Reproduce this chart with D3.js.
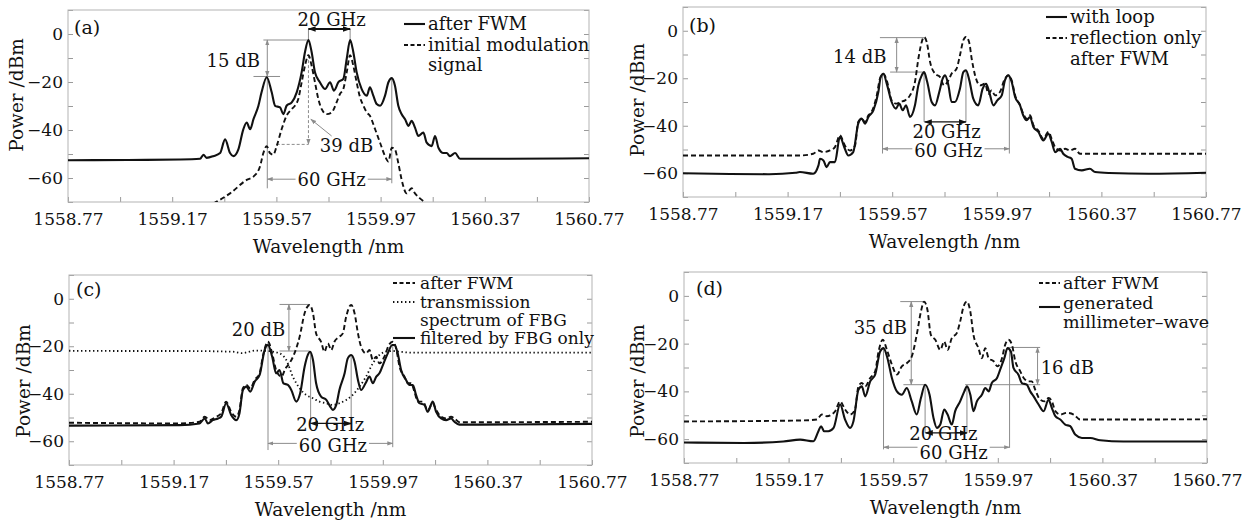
<!DOCTYPE html>
<html>
<head>
<meta charset="utf-8">
<script src="https://cdn.jsdelivr.net/npm/d3@7"></script>
<style>
  body { margin: 0; background: #fff; }
  svg text { font-family: "DejaVu Serif", serif; fill: #111; }
</style>
</head>
<body>
<svg id="chart" width="1258" height="521"></svg>
<script>
// axes shared by all four panels
const xDomain = [1558.77, 1560.77];
const yDomain = [-70, 10];
const xTicks = [1558.77, 1559.17, 1559.57, 1559.97, 1560.37, 1560.77];
const yTicks = [0, -20, -40, -60];
const xMinor = d3.range(0, 11).map(i => +(1558.77 + i * 0.2).toFixed(2));
const yMinor = d3.range(-70, 11, 10);

// (a) spectra, [wavelength nm, power dBm]
const aAfterFWM = [[1558.77,-52.6],[1559.0,-52.5],[1559.20,-52.3],[1559.277,-52.0],[1559.290,-50.3],[1559.302,-51.6],[1559.328,-50.9],[1559.354,-49.6],[1559.373,-43.9],[1559.392,-49.6],[1559.405,-50.9],[1559.424,-48.1],[1559.443,-39.7],[1559.456,-36.9],[1559.469,-39.7],[1559.482,-35.5],[1559.501,-29.9],[1559.513,-24.3],[1559.533,-18.0],[1559.552,-24.3],[1559.565,-29.9],[1559.584,-30.6],[1559.597,-33.4],[1559.609,-29.9],[1559.629,-28.5],[1559.648,-24.3],[1559.667,-15.9],[1559.680,-7.4],[1559.693,-2.5],[1559.705,-7.4],[1559.718,-15.9],[1559.737,-20.1],[1559.757,-22.9],[1559.776,-20.1],[1559.791,-23.6],[1559.808,-20.1],[1559.827,-18.7],[1559.840,-10.3],[1559.853,-2.5],[1559.865,-7.4],[1559.878,-15.9],[1559.897,-22.9],[1559.917,-25.7],[1559.929,-22.2],[1559.942,-25.7],[1559.955,-29.2],[1559.968,-29.9],[1559.987,-25.7],[1560.000,-20.1],[1560.013,-18.4],[1560.025,-21.5],[1560.038,-29.9],[1560.051,-33.4],[1560.064,-35.5],[1560.077,-38.3],[1560.089,-36.2],[1560.102,-39.0],[1560.115,-42.5],[1560.134,-41.1],[1560.147,-45.3],[1560.166,-46.7],[1560.179,-42.5],[1560.192,-47.4],[1560.211,-49.6],[1560.224,-49.6],[1560.236,-50.9],[1560.256,-49.6],[1560.275,-52.0],[1560.40,-52.0],[1560.77,-51.8]];
const aInitial = [[1559.30,-72],[1559.328,-70.6],[1559.392,-66.4],[1559.456,-60.8],[1559.482,-59.4],[1559.507,-55.2],[1559.520,-49.6],[1559.533,-46.7],[1559.545,-49.6],[1559.558,-50.3],[1559.571,-46.7],[1559.590,-39.7],[1559.609,-34.1],[1559.629,-31.3],[1559.641,-29.9],[1559.654,-27.1],[1559.667,-20.1],[1559.680,-13.1],[1559.693,-8.8],[1559.705,-13.1],[1559.718,-20.1],[1559.731,-27.1],[1559.744,-31.3],[1559.763,-33.4],[1559.782,-32.7],[1559.801,-28.5],[1559.814,-25.0],[1559.827,-22.9],[1559.840,-15.9],[1559.853,-8.8],[1559.865,-13.1],[1559.878,-20.1],[1559.891,-26.4],[1559.904,-29.9],[1559.917,-32.7],[1559.929,-34.1],[1559.949,-39.7],[1559.968,-45.3],[1559.987,-50.9],[1560.000,-53.1],[1560.013,-47.4],[1560.025,-48.1],[1560.038,-53.8],[1560.051,-60.8],[1560.070,-66.4],[1560.089,-64.3],[1560.102,-66.4],[1560.121,-68.5],[1560.147,-70.6],[1560.17,-72]];

// (b)
const bWithLoop = [[1558.77,-60.0],[1558.95,-60.3],[1559.10,-60.4],[1559.20,-59.8],[1559.217,-59.5],[1559.268,-60.2],[1559.288,-56.7],[1559.294,-53.9],[1559.307,-54.6],[1559.319,-57.4],[1559.332,-55.3],[1559.351,-55.3],[1559.370,-44.7],[1559.389,-49.7],[1559.402,-52.5],[1559.421,-51.1],[1559.440,-39.1],[1559.453,-37.0],[1559.466,-39.1],[1559.479,-36.3],[1559.498,-33.5],[1559.517,-25.8],[1559.526,-19.5],[1559.536,-18.1],[1559.551,-23.0],[1559.568,-30.0],[1559.584,-32.8],[1559.597,-30.7],[1559.610,-33.5],[1559.623,-31.4],[1559.638,-36.3],[1559.657,-31.4],[1559.670,-23.0],[1559.683,-18.8],[1559.692,-17.4],[1559.704,-21.6],[1559.721,-30.0],[1559.734,-31.4],[1559.750,-25.8],[1559.763,-20.2],[1559.772,-18.8],[1559.785,-23.0],[1559.797,-30.0],[1559.810,-30.0],[1559.829,-24.4],[1559.842,-17.4],[1559.852,-16.7],[1559.865,-20.9],[1559.880,-28.6],[1559.899,-31.4],[1559.916,-24.4],[1559.929,-22.3],[1559.941,-25.8],[1559.957,-31.4],[1559.972,-29.3],[1559.989,-27.2],[1560.001,-20.9],[1560.014,-18.8],[1560.027,-21.6],[1560.040,-27.9],[1560.059,-31.4],[1560.071,-35.6],[1560.084,-37.7],[1560.097,-36.3],[1560.110,-40.5],[1560.129,-42.6],[1560.148,-46.2],[1560.167,-43.3],[1560.180,-46.8],[1560.193,-51.1],[1560.212,-49.7],[1560.224,-51.8],[1560.243,-53.2],[1560.256,-53.9],[1560.269,-58.1],[1560.295,-58.8],[1560.326,-58.1],[1560.346,-59.5],[1560.40,-59.9],[1560.55,-60.2],[1560.77,-59.8]];
const bReflection = [[1558.77,-52.5],[1559.217,-52.5],[1559.268,-51.8],[1559.288,-50.4],[1559.307,-51.1],[1559.332,-50.4],[1559.351,-49.0],[1559.370,-44.0],[1559.389,-48.3],[1559.409,-50.4],[1559.428,-48.3],[1559.440,-38.4],[1559.453,-37.0],[1559.466,-38.4],[1559.479,-35.6],[1559.491,-34.2],[1559.511,-27.2],[1559.523,-20.2],[1559.536,-18.1],[1559.551,-21.6],[1559.568,-29.3],[1559.587,-30.7],[1559.600,-30.0],[1559.619,-29.3],[1559.638,-27.2],[1559.657,-21.6],[1559.670,-11.8],[1559.683,-4.7],[1559.692,-2.6],[1559.702,-4.7],[1559.715,-13.2],[1559.734,-18.1],[1559.753,-19.5],[1559.768,-23.0],[1559.785,-20.9],[1559.797,-18.1],[1559.816,-16.0],[1559.829,-10.4],[1559.842,-4.0],[1559.852,-2.6],[1559.864,-4.7],[1559.874,-11.8],[1559.887,-18.8],[1559.906,-23.0],[1559.925,-22.3],[1559.938,-26.5],[1559.950,-25.1],[1559.963,-27.2],[1559.982,-25.8],[1559.998,-20.9],[1560.014,-18.8],[1560.027,-20.9],[1560.040,-27.2],[1560.059,-31.4],[1560.071,-34.9],[1560.084,-37.0],[1560.097,-35.6],[1560.110,-39.8],[1560.129,-42.0],[1560.148,-45.5],[1560.167,-42.6],[1560.180,-45.5],[1560.193,-49.0],[1560.212,-50.4],[1560.231,-49.7],[1560.250,-50.4],[1560.269,-49.7],[1560.288,-51.8],[1560.77,-51.8]];

// (c)
const cAfterFWM = [[1558.77,-52.2],[1559.193,-52.5],[1559.269,-51.8],[1559.289,-49.7],[1559.308,-51.1],[1559.333,-49.7],[1559.352,-48.2],[1559.371,-43.3],[1559.390,-47.6],[1559.410,-49.7],[1559.422,-46.8],[1559.435,-37.7],[1559.448,-36.3],[1559.463,-37.7],[1559.480,-34.2],[1559.499,-31.4],[1559.511,-24.4],[1559.531,-18.1],[1559.547,-23.0],[1559.562,-30.0],[1559.582,-32.8],[1559.598,-29.3],[1559.613,-27.2],[1559.632,-23.0],[1559.652,-16.0],[1559.671,-6.1],[1559.690,-2.6],[1559.703,-6.1],[1559.715,-14.6],[1559.734,-18.1],[1559.747,-22.3],[1559.760,-18.8],[1559.773,-21.6],[1559.785,-18.1],[1559.804,-16.0],[1559.817,-14.6],[1559.830,-7.5],[1559.849,-2.6],[1559.862,-6.1],[1559.875,-14.6],[1559.887,-20.2],[1559.906,-23.0],[1559.919,-21.6],[1559.932,-25.8],[1559.945,-24.4],[1559.957,-27.2],[1559.976,-24.4],[1559.993,-19.5],[1560.008,-18.1],[1560.021,-20.9],[1560.034,-28.6],[1560.053,-32.8],[1560.066,-35.6],[1560.078,-35.6],[1560.091,-39.1],[1560.104,-43.3],[1560.123,-43.3],[1560.142,-46.8],[1560.161,-44.0],[1560.174,-46.8],[1560.193,-49.7],[1560.212,-50.4],[1560.231,-49.7],[1560.244,-50.4],[1560.263,-52.0],[1560.77,-51.8]];
const cTransmission = [[1558.77,-21.9],[1559.00,-22.0],[1559.20,-22.0],[1559.397,-22.3],[1559.43,-22.9],[1559.46,-22.3],[1559.48,-21.8],[1559.53,-22.0],[1559.575,-23.0],[1559.601,-25.8],[1559.626,-32.8],[1559.652,-37.7],[1559.677,-40.5],[1559.703,-41.9],[1559.728,-43.3],[1559.754,-44.0],[1559.779,-44.7],[1559.804,-44.0],[1559.830,-42.6],[1559.855,-40.5],[1559.881,-37.0],[1559.906,-32.8],[1559.932,-27.2],[1559.957,-23.7],[1559.983,-22.3],[1560.008,-22.0],[1560.034,-22.3],[1560.085,-22.7],[1560.77,-22.7]];
const cFiltered = [[1558.77,-53.4],[1559.193,-53.2],[1559.269,-52.5],[1559.289,-50.4],[1559.301,-52.5],[1559.320,-51.1],[1559.340,-50.4],[1559.352,-49.7],[1559.371,-44.0],[1559.390,-48.9],[1559.410,-51.1],[1559.422,-48.2],[1559.435,-38.4],[1559.448,-37.0],[1559.463,-39.1],[1559.480,-34.9],[1559.499,-32.1],[1559.518,-21.6],[1559.531,-19.5],[1559.547,-24.4],[1559.562,-31.4],[1559.575,-30.0],[1559.590,-35.6],[1559.607,-36.3],[1559.620,-38.4],[1559.639,-43.3],[1559.654,-39.8],[1559.671,-28.6],[1559.683,-23.7],[1559.692,-22.3],[1559.703,-25.8],[1559.715,-35.6],[1559.734,-41.2],[1559.754,-42.6],[1559.769,-45.4],[1559.779,-46.8],[1559.792,-44.7],[1559.804,-38.4],[1559.824,-31.4],[1559.836,-25.1],[1559.849,-23.7],[1559.862,-26.5],[1559.875,-34.2],[1559.887,-38.4],[1559.904,-35.6],[1559.919,-32.8],[1559.932,-35.6],[1559.945,-32.8],[1559.957,-31.4],[1559.973,-27.2],[1559.989,-23.0],[1560.006,-19.5],[1560.015,-19.5],[1560.027,-23.0],[1560.040,-30.0],[1560.059,-34.2],[1560.072,-36.3],[1560.085,-36.3],[1560.097,-40.5],[1560.110,-44.0],[1560.129,-44.7],[1560.142,-47.6],[1560.161,-43.3],[1560.174,-47.6],[1560.193,-50.4],[1560.212,-51.1],[1560.231,-50.4],[1560.244,-51.8],[1560.263,-53.0],[1560.77,-52.7]];

// (d)
const dAfterFWM = [[1558.77,-52.6],[1559.214,-52.2],[1559.278,-51.8],[1559.297,-49.7],[1559.316,-50.4],[1559.335,-49.7],[1559.348,-48.3],[1559.367,-44.2],[1559.386,-47.6],[1559.405,-49.7],[1559.424,-47.6],[1559.437,-37.9],[1559.450,-36.5],[1559.463,-37.9],[1559.482,-34.4],[1559.501,-31.6],[1559.514,-23.3],[1559.530,-18.4],[1559.546,-22.6],[1559.565,-28.8],[1559.584,-33.0],[1559.603,-29.5],[1559.622,-28.2],[1559.641,-25.4],[1559.660,-16.3],[1559.676,-6.6],[1559.688,-2.4],[1559.701,-5.9],[1559.714,-16.3],[1559.731,-18.4],[1559.750,-22.6],[1559.765,-19.1],[1559.778,-22.6],[1559.794,-17.7],[1559.813,-15.6],[1559.826,-10.8],[1559.839,-4.5],[1559.852,-2.4],[1559.865,-6.6],[1559.877,-16.3],[1559.896,-21.9],[1559.909,-26.1],[1559.922,-21.9],[1559.935,-26.1],[1559.954,-27.4],[1559.969,-29.5],[1559.986,-26.1],[1559.998,-20.5],[1560.011,-18.4],[1560.024,-20.5],[1560.037,-27.4],[1560.056,-31.6],[1560.069,-34.4],[1560.088,-35.8],[1560.100,-35.8],[1560.113,-39.3],[1560.132,-43.5],[1560.151,-44.2],[1560.164,-42.8],[1560.177,-44.2],[1560.190,-48.3],[1560.209,-49.7],[1560.234,-49.0],[1560.260,-49.7],[1560.285,-51.8],[1560.77,-51.7]];
const dMillimeter = [[1558.77,-61.4],[1559.0,-61.6],[1559.15,-61.0],[1559.214,-60.2],[1559.265,-60.9],[1559.284,-56.7],[1559.294,-54.6],[1559.306,-56.7],[1559.322,-56.7],[1559.342,-55.3],[1559.367,-45.5],[1559.386,-51.8],[1559.405,-55.3],[1559.418,-52.5],[1559.437,-39.3],[1559.450,-37.9],[1559.463,-42.1],[1559.482,-35.8],[1559.501,-33.0],[1559.520,-23.3],[1559.533,-21.9],[1559.548,-26.1],[1559.565,-34.4],[1559.584,-40.0],[1559.603,-41.4],[1559.622,-38.6],[1559.641,-44.2],[1559.660,-49.7],[1559.676,-42.8],[1559.692,-37.2],[1559.709,-41.4],[1559.724,-51.1],[1559.737,-55.3],[1559.750,-53.9],[1559.765,-47.6],[1559.778,-49.7],[1559.794,-53.9],[1559.807,-48.3],[1559.826,-44.2],[1559.842,-40.0],[1559.852,-37.9],[1559.865,-41.4],[1559.877,-48.3],[1559.890,-44.2],[1559.909,-41.4],[1559.922,-38.6],[1559.935,-40.0],[1559.947,-36.5],[1559.967,-34.4],[1559.979,-30.9],[1559.995,-26.1],[1560.007,-21.9],[1560.020,-23.3],[1560.030,-30.2],[1560.049,-33.0],[1560.062,-36.5],[1560.081,-37.2],[1560.094,-40.0],[1560.107,-42.1],[1560.126,-45.5],[1560.145,-48.3],[1560.164,-43.5],[1560.177,-47.0],[1560.190,-50.4],[1560.209,-51.8],[1560.228,-53.9],[1560.247,-54.6],[1560.266,-58.1],[1560.292,-59.5],[1560.324,-59.5],[1560.362,-60.5],[1560.45,-61.0],[1560.77,-61.0]];

const styles = {
  solid:  { w: 2.1, dash: null },
  dashed: { w: 1.9, dash: '5,3' },
  dotted: { w: 1.8, dash: '1.4,2.6' }
};

// annotation marks are given in data coordinates (nm, dBm)
const panels = [
  {
    id: 'a', x: 68, y: 10, w: 521, h: 192, label: '(a)', lx: 6, ly: 17, ytx: 17, yty: 95,
    series: [{ data: aInitial, s: 'dashed' }, { data: aAfterFWM, s: 'solid' }],
    legend: { x1: 404, x2: 425, tx: 428, size: 18, rows: [
      { y: 24, s: 'solid', text: 'after FWM' },
      { y: 45, s: 'dashed', text: 'initial modulation' },
      { y: 65, text: 'signal' }] },
    notes: [
      { p: [[1559.520, -2.5], [1559.693, -2.5]] },
      { p: [[1559.482, -17.7], [1559.584, -17.7]] },
      { p: [[1559.535, -2.5], [1559.535, -17.7]], head: 'both' },
      { p: [[1559.693, 2.1], [1559.693, -2.5]] },
      { p: [[1559.853, 2.1], [1559.853, -2.5]] },
      { p: [[1559.693, 2.1], [1559.853, 2.1]], head: 'both', c: '#111', w: 2 },
      { p: [[1559.571, -46.0], [1559.693, -46.0]], dash: true },
      { p: [[1559.693, -8.8], [1559.693, -46.0]], dash: true, head: 'end' },
      { p: [[1559.782, -42.5], [1559.702, -35.5]], head: 'end' },
      { p: [[1559.535, -17.7], [1559.535, -64.3]] },
      { p: [[1560.013, -18.4], [1560.013, -62.2]] },
      { p: [[1559.535, -60.5], [1560.013, -60.5]], head: 'both' },
      { t: '15 dB', at: [1559.507, -11.0], anchor: 'end' },
      { t: '20 GHz', at: [1559.782, 5.8] },
      { t: '39 dB', at: [1559.839, -46.7] },
      { t: '60 GHz', at: [1559.782, -60.5], bg: true }
    ]
  },
  {
    id: 'b', x: 683, y: 7, w: 523, h: 190, label: '(b)', lx: 6, ly: 18, ytx: 637.5, yty: 100,
    series: [{ data: bReflection, s: 'dashed' }, { data: bWithLoop, s: 'solid' }],
    legend: { x1: 1046, x2: 1067, tx: 1070, size: 18, rows: [
      { y: 17, s: 'solid', text: 'with loop' },
      { y: 38, s: 'dashed', text: 'reflection only' },
      { y: 59, text: 'after FWM' }] },
    notes: [
      { p: [[1559.523, -2.9], [1559.692, -2.9]] },
      { p: [[1559.562, -17.4], [1559.692, -17.4]] },
      { p: [[1559.587, -2.9], [1559.587, -17.4]], head: 'both' },
      { p: [[1559.692, -17.4], [1559.692, -38.4]] },
      { p: [[1559.852, -16.7], [1559.852, -38.4]] },
      { p: [[1559.694, -38.4], [1559.852, -38.4]], head: 'both', c: '#111', w: 1.3 },
      { p: [[1559.533, -18.1], [1559.533, -51.7]] },
      { p: [[1560.018, -18.8], [1560.018, -51.7]] },
      { p: [[1559.533, -49.7], [1560.018, -49.7]], head: 'both' },
      { t: '14 dB', at: [1559.548, -11.1], anchor: 'end' },
      { t: '20 GHz', at: [1559.778, -42.6] },
      { t: '60 GHz', at: [1559.785, -50.4], bg: true }
    ]
  },
  {
    id: 'c', x: 69, y: 275, w: 523, h: 190, label: '(c)', lx: 7, ly: 14, ytx: 23.5, yty: 381,
    series: [{ data: cTransmission, s: 'dotted' }, { data: cAfterFWM, s: 'dashed' }, { data: cFiltered, s: 'solid' }],
    legend: { x1: 393, x2: 415, tx: 420, size: 17, rows: [
      { y: 283, s: 'dashed', text: 'after FWM' },
      { y: 302, s: 'dotted', text: 'transmission' },
      { y: 320, text: 'spectrum of FBG' },
      { y: 338, s: 'solid', text: 'filtered by FBG only' }] },
    notes: [
      { p: [[1559.575, -2.4], [1559.690, -2.4]] },
      { p: [[1559.575, -22.0], [1559.690, -22.0]] },
      { p: [[1559.611, -2.4], [1559.611, -22.0]], head: 'both' },
      { p: [[1559.694, -22.0], [1559.694, -52.5]] },
      { p: [[1559.849, -23.7], [1559.849, -52.5]] },
      { p: [[1559.694, -52.5], [1559.849, -52.5]], head: 'both', c: '#111', w: 1.3 },
      { p: [[1559.531, -18.1], [1559.531, -63.7]] },
      { p: [[1560.008, -19.5], [1560.008, -62.5]] },
      { p: [[1559.531, -60.9], [1560.008, -60.9]], head: 'both' },
      { t: '20 dB', at: [1559.597, -12.9], anchor: 'end' },
      { t: '20 GHz', at: [1559.769, -52.9] },
      { t: '60 GHz', at: [1559.779, -62.0], bg: true }
    ]
  },
  {
    id: 'd', x: 684, y: 272, w: 523, h: 191, label: '(d)', lx: 12, ly: 16, ytx: 637.5, yty: 381,
    series: [{ data: dAfterFWM, s: 'dashed' }, { data: dMillimeter, s: 'solid' }],
    legend: { x1: 1039, x2: 1060, tx: 1063, size: 17.5, rows: [
      { y: 283, s: 'dashed', text: 'after FWM' },
      { y: 303, ly: 307, s: 'solid', text: 'generated' },
      { y: 322, text: 'millimeter\u2013wave' }] },
    notes: [
      { p: [[1559.597, -2.4], [1559.688, -2.4]] },
      { p: [[1559.609, -37.2], [1559.692, -37.2]] },
      { p: [[1559.639, -2.4], [1559.639, -37.2]], head: 'both' },
      { p: [[1560.007, -21.6], [1560.132, -21.6]] },
      { p: [[1559.845, -37.2], [1560.132, -37.2]] },
      { p: [[1560.122, -21.6], [1560.122, -37.2]], head: 'both' },
      { p: [[1559.692, -37.2], [1559.692, -57.4]] },
      { p: [[1559.852, -37.9], [1559.852, -57.4]] },
      { p: [[1559.694, -57.4], [1559.852, -57.4]], head: 'both', c: '#111', w: 1.3 },
      { p: [[1559.533, -21.9], [1559.533, -64.3]] },
      { p: [[1560.015, -21.9], [1560.015, -63.6]] },
      { p: [[1559.533, -63.4], [1560.015, -63.4]], head: 'both' },
      { t: '35 dB', at: [1559.623, -13.5], anchor: 'end' },
      { t: '16 dB', at: [1560.134, -30.0], anchor: 'start' },
      { t: '20 GHz', at: [1559.762, -57.7] },
      { t: '60 GHz', at: [1559.801, -65.6], bg: true }
    ]
  }
];

const svg = d3.select('#chart');
const defs = svg.append('defs');

function addMarker(id, color, size) {
  defs.append('marker')
    .attr('id', id)
    .attr('viewBox', '0 0 10 10')
    .attr('refX', 9).attr('refY', 5)
    .attr('markerWidth', size).attr('markerHeight', size)
    .attr('markerUnits', 'userSpaceOnUse')
    .attr('orient', 'auto-start-reverse')
    .append('path')
    .attr('d', 'M0,1.5 L10,5 L0,8.5 Z')
    .attr('fill', color);
}
addMarker('headGray', '#8c8c8c', 6);
addMarker('headBlack', '#111', 8);

function drawPanel(p) {
  const x = d3.scaleLinear().domain(xDomain).range([p.x, p.x + p.w]);
  const y = d3.scaleLinear().domain(yDomain).range([p.y + p.h, p.y]);
  const g = svg.append('g');

  defs.append('clipPath').attr('id', 'clip-' + p.id)
    .append('rect').attr('x', p.x).attr('y', p.y).attr('width', p.w).attr('height', p.h);

  // inner tick marks
  const tickStyle = s => { s.select('.domain').remove(); s.selectAll('line').attr('stroke', '#9a9a9a'); };
  g.append('g').attr('transform', `translate(0,${p.y + p.h})`)
    .call(d3.axisBottom(x).tickValues(xMinor).tickSize(-5).tickFormat('')).call(tickStyle);
  g.append('g').attr('transform', `translate(${p.x},0)`)
    .call(d3.axisLeft(y).tickValues(yMinor).tickSize(-5).tickFormat('')).call(tickStyle);
  g.append('g').attr('transform', `translate(${p.x + p.w},0)`)
    .call(d3.axisRight(y).tickValues(yMinor).tickSize(-5).tickFormat('')).call(tickStyle);

  // tick labels
  const labelStyle = s => { s.select('.domain').remove(); s.selectAll('text').style('font-size', '17px').attr('fill', '#111'); };
  g.append('g').attr('transform', `translate(0,${p.y + p.h})`)
    .call(d3.axisBottom(x).tickValues(xTicks).tickSize(0).tickPadding(11).tickFormat(d3.format('.2f')))
    .call(labelStyle);
  g.append('g').attr('transform', `translate(${p.x},0)`)
    .call(d3.axisLeft(y).tickValues(yTicks).tickSize(0).tickPadding(5)
      .tickFormat(d => d === 0 ? '0' : '\u2212' + Math.abs(d)))
    .call(labelStyle);

  g.append('rect').attr('x', p.x).attr('y', p.y).attr('width', p.w).attr('height', p.h)
    .attr('fill', 'none').attr('stroke', '#b3b3b3').attr('stroke-width', 1);

  // axis titles
  g.append('text').attr('x', p.x + p.w / 2).attr('y', p.y + p.h + 45).attr('dy', '0.35em')
    .attr('text-anchor', 'middle').style('font-size', '18.5px').text('Wavelength /nm');
  g.append('text').attr('transform', `translate(${p.ytx},${p.yty}) rotate(-90)`).attr('dy', '0.35em')
    .attr('text-anchor', 'middle').style('font-size', '18.5px').text('Power /dBm');

  g.append('text').attr('x', p.x + p.lx).attr('y', p.y + p.ly).attr('dy', '0.35em')
    .style('font-size', '19px').text(p.label);

  // guide lines and arrows
  p.notes.filter(n => n.p).forEach(n => {
    const l = g.append('line')
      .attr('x1', x(n.p[0][0])).attr('y1', y(n.p[0][1]))
      .attr('x2', x(n.p[1][0])).attr('y2', y(n.p[1][1]))
      .attr('stroke', n.c || '#8c8c8c').attr('stroke-width', n.w || 1);
    if (n.dash) l.attr('stroke-dasharray', '3,2');
    const m = n.c ? 'url(#headBlack)' : 'url(#headGray)';
    if (n.head === 'both') l.attr('marker-start', m);
    if (n.head) l.attr('marker-end', m);
  });

  // spectra
  const line = d3.line().x(d => x(d[0])).y(d => y(d[1])).curve(d3.curveMonotoneX);
  const plot = g.append('g').attr('clip-path', `url(#clip-${p.id})`);
  p.series.forEach(sr => {
    const st = styles[sr.s];
    plot.append('path').datum(sr.data).attr('d', line)
      .attr('fill', 'none').attr('stroke', '#111').attr('stroke-width', st.w)
      .attr('stroke-linejoin', 'round')
      .attr('stroke-dasharray', st.dash);
  });

  // annotation texts
  p.notes.filter(n => n.t).forEach(n => {
    const t = g.append('text').attr('x', x(n.at[0])).attr('y', y(n.at[1])).attr('dy', '0.35em')
      .attr('text-anchor', n.anchor || 'middle').style('font-size', '18px').text(n.t);
    if (n.bg) {
      const b = t.node().getBBox();
      g.insert('rect', () => t.node())
        .attr('x', b.x - 2).attr('y', b.y + 3).attr('width', b.width + 4).attr('height', b.height - 6)
        .attr('fill', '#fff');
    }
  });

  // legend
  const lg = p.legend;
  lg.rows.forEach(r => {
    if (r.s) {
      const st = styles[r.s];
      g.append('line').attr('x1', lg.x1).attr('x2', lg.x2)
        .attr('y1', r.ly || r.y).attr('y2', r.ly || r.y)
        .attr('stroke', '#111').attr('stroke-width', st.w)
        .attr('stroke-dasharray', r.s === 'dashed' ? '4,2.5' : st.dash);
    }
    g.append('text').attr('x', lg.tx).attr('y', r.y).attr('dy', '0.35em')
      .style('font-size', lg.size + 'px').text(r.text);
  });
}

panels.forEach(drawPanel);
</script>
</body>
</html>
